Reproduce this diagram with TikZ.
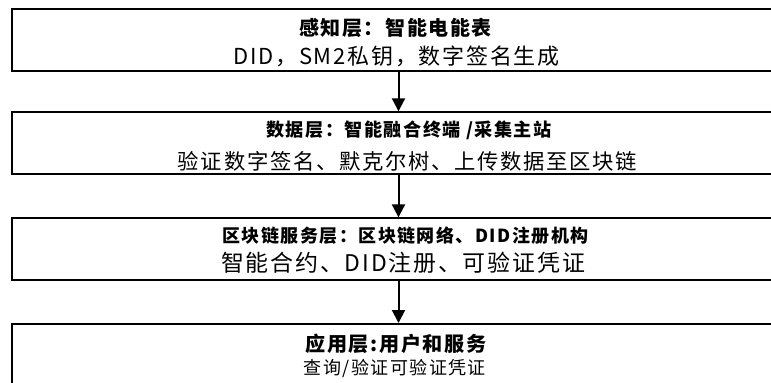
\documentclass[tikz,border=0pt]{standalone}
\usepackage{fontspec}
\usetikzlibrary{arrows.meta}
\newfontfamily\cjk{Noto Sans CJK SC}[LetterSpace=8]
\begin{document}
\begin{tikzpicture}[x=0.75pt,y=-0.75pt,
  layerbox/.style={draw=black, line width=1.5pt, fill=white, minimum width=580.5pt, inner sep=0pt},
  titletext/.style={inner sep=0pt, text=black},
  subtext/.style={inner sep=0pt, text=black},
  flow/.style={-{Triangle[width=9.75pt,length=9.75pt]}, line width=1.5pt}]
\useasboundingbox (0,0) rectangle (771,382);
\clip (0,0) rectangle (771,382);
\fill[white] (0,0) rectangle (771,382);
% layer boxes
\node[layerbox, minimum height=46pt]   (b1) at (398.5,40) {};
\node[layerbox, minimum height=46.5pt] (b2) at (398.5,143.3) {};
\node[layerbox, minimum height=46.3pt] (b3) at (398.5,249.2) {};
\node[layerbox, minimum height=46.5pt] (b4) at (398.5,355) {};
% texts
\node[titletext, font=\cjk\bfseries\fontsize{15pt}{18pt}\selectfont] (t1) at (395.5,28.3) {感知层：智能电能表};
\node[subtext, font=\cjk\fontsize{16.5pt}{20pt}\selectfont] (s1) at (396.5,56.7) {DID，SM2私钥，数字签名生成};
\node[titletext, font=\cjk\bfseries\fontsize{13.6pt}{16pt}\selectfont] (t2) at (409,130.5) {数据层：智能融合终端 /采集主站};
\node[subtext, font=\cjk\fontsize{16pt}{19pt}\selectfont] (s2) at (407.5,161) {验证数字签名、默克尔树、上传数据至区块链};
\node[titletext, font=\cjk\bfseries\fontsize{13.5pt}{16pt}\selectfont] (t3) at (405.5,235.5) {区块链服务层：区块链网络、DID注册机构};
\node[subtext, font=\cjk\fontsize{17.2pt}{20pt}\selectfont] (s3) at (403,262.5) {智能合约、DID注册、可验证凭证};
\node[titletext, font=\cjk\bfseries\fontsize{15.1pt}{18pt}\selectfont] (t4) at (396,343.5) {应用层:用户和服务};
\node[subtext, font=\cjk\fontsize{13.5pt}{16pt}\selectfont] (s4) at (395,368.5) {查询/验证可验证凭证};
% connectors
\draw[flow] (b1) -- (b2);
\draw[flow] (b2) -- (b3);
\draw[flow] (b3) -- (b4);
\end{tikzpicture}
\end{document}
